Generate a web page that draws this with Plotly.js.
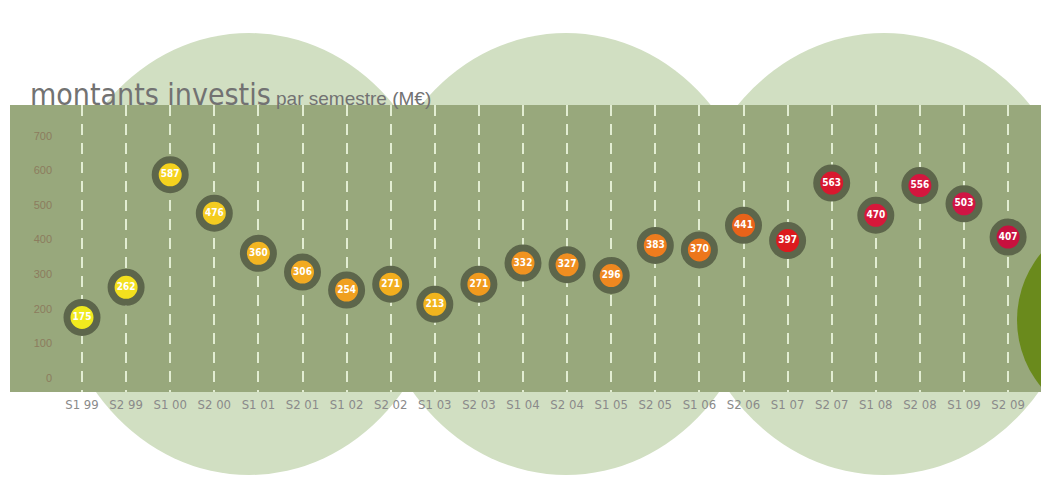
<!DOCTYPE html>
<html>
<head>
<meta charset="utf-8">
<script src="https://cdn.plot.ly/plotly-3.0.1.min.js"></script>
<style>
  html, body { margin: 0; padding: 0; background: #ffffff; }
  #chart { width: 1041px; height: 494px; }
</style>
</head>
<body>
<div id="chart"></div>
<script>
// ---- data ----
const categories = ['S1 99','S2 99','S1 00','S2 00','S1 01','S2 01','S1 02','S2 02','S1 03','S2 03','S1 04','S2 04','S1 05','S2 05','S1 06','S2 06','S1 07','S2 07','S1 08','S2 08','S1 09','S2 09'];
const values = [175, 262, 587, 476, 360, 306, 254, 271, 213, 271, 332, 327, 296, 383, 370, 441, 397, 563, 470, 556, 503, 407];
const yTickValues = [0, 100, 200, 300, 400, 500, 600, 700];

// ---- styles ----
const markerColors = ['#f0ea1e','#f3e01e','#f5d21e','#f4cc20','#f2b522','#f2aa22','#f0a020','#f2ae1e','#f0b41e','#f09a1e','#f09320','#f08e20','#ef8820','#ee7c1e','#ec761c','#e8631a','#dc1a1e','#d8182e','#d6183a','#d4163e','#d01444','#c8103e'];

const W = 1041, H = 494;
const M = { l: 58, r: 0, t: 105, b: 102 };
const PW = W - M.l - M.r, PH = H - M.t - M.b;
const px = v => (v - M.l) / PW;
const py = v => (H - M.b - v) / PH;

function ellipse(cx, cy, a, b, color) {
  return { type: 'circle', xref: 'paper', yref: 'paper', layer: 'below',
    x0: px(cx - a), x1: px(cx + a), y0: py(cy + b), y1: py(cy - b),
    fillcolor: color, line: { width: 0 } };
}

const pale = '#d1dfc2';
const shapes = [
  ellipse(249, 254, 196, 221, pale),
  ellipse(566, 254, 196, 221, pale),
  ellipse(884, 254, 198, 221, pale),
  { type: 'rect', xref: 'paper', yref: 'paper', layer: 'below',
    x0: px(10), x1: px(1041), y0: py(392), y1: py(105),
    fillcolor: '#98a87c', line: { width: 0 } },
  ellipse(1122, 320, 105, 105, '#6a8a1c')
];

const narrow = '"Liberation Sans Narrow", "DejaVu Sans Condensed", "Liberation Sans", sans-serif';

const trace = {
  type: 'scatter',
  mode: 'markers+text',
  x: categories,
  y: values,
  text: values.map(String),
  textposition: 'middle center',
  textfont: { family: narrow, size: 10, color: '#ffffff', weight: 'bold' },
  marker: { size: 30, color: markerColors, line: { width: 7, color: '#5d664b' } },
  cliponaxis: false,
  hoverinfo: 'x+y'
};

const yPix0 = 378, pxPerUnit = 0.3462;
const layout = {
  width: W, height: H,
  margin: M,
  paper_bgcolor: '#ffffff',
  plot_bgcolor: 'rgba(0,0,0,0)',
  showlegend: false,
  shapes: shapes,
  xaxis: {
    type: 'category',
    range: [(M.l - 82) / 44.1, (W - M.r - 82) / 44.1],
    showgrid: true, gridcolor: '#e2edd2', gridwidth: 2, griddash: '11px,8px',
    zeroline: false, showline: false, ticks: '', ticklen: 0,
    ticklabelstandoff: 3,
    tickfont: { family: narrow, size: 13, color: '#8a8a8a' },
    fixedrange: true
  },
  yaxis: {
    range: [(yPix0 - (H - M.b)) / pxPerUnit, (yPix0 - M.t) / pxPerUnit],
    tickvals: yTickValues,
    showgrid: false, zeroline: false, showline: false, ticks: '', ticklen: 0,
    ticklabelstandoff: 5,
    tickfont: { family: '"Liberation Sans", sans-serif', size: 11, color: '#8c7c5e' },
    fixedrange: true
  },
  annotations: [{
    xref: 'paper', yref: 'paper',
    x: px(28), y: py(114), xanchor: 'left', yanchor: 'bottom',
    showarrow: false,
    text: 'montants investis<span style="font-family:Liberation Sans, sans-serif;font-size:19px"> par semestre (M€)</span>',
    font: { family: narrow, size: 30, color: '#727272' }
  }]
};

Plotly.newPlot('chart', [trace], layout, { displayModeBar: false, staticPlot: true });
</script>
</body>
</html>
